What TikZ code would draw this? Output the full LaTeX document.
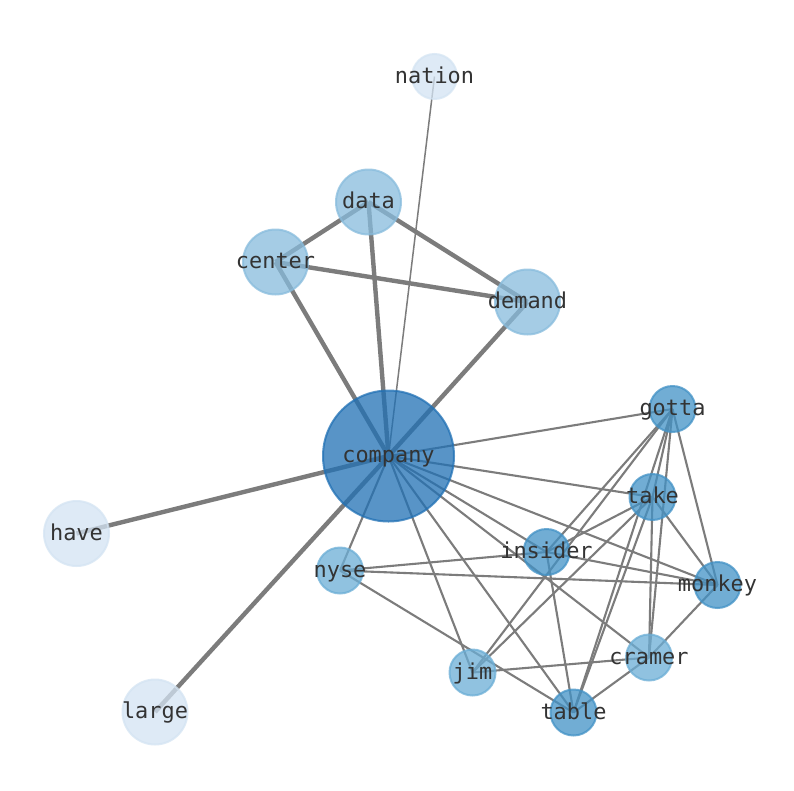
\documentclass[tikz,border=0pt]{standalone}
\usepackage{fontspec}
\setmonofont{DejaVu Sans Mono}
\usetikzlibrary{backgrounds}
\definecolor{cBig}{HTML}{2171B5}
\definecolor{cMid}{HTML}{4292C6}
\definecolor{cNy}{HTML}{6BAED6}
\definecolor{cData}{HTML}{88BCDD}
\definecolor{cLight}{HTML}{D4E4F3}
\definecolor{edgegray}{HTML}{7C7C7C}
\definecolor{txt}{HTML}{333333}
\tikzset{
  vtx/.style={circle, inner sep=0pt, outer sep=0pt, line width=2pt,
              fill opacity=.75, draw opacity=.75},
  vbig/.style={vtx, fill=cBig, draw=cBig, minimum size=131pt},
  vmid/.style={vtx, fill=cMid, draw=cMid, minimum size=46pt},
  vny/.style={vtx, fill=cNy, draw=cNy, minimum size=46pt},
  vdata/.style={vtx, fill=cData, draw=cData, minimum size=65pt},
  vlightbig/.style={vtx, fill=cLight, draw=cLight, minimum size=65pt},
  vlightsmall/.style={vtx, fill=cLight, draw=cLight, minimum size=45pt},
  heavy/.style={draw=edgegray, line width=4.4pt},
  fine/.style={draw=edgegray, line width=2.1pt},
  hair/.style={draw=edgegray, line width=1.5pt},
  lbl/.style={anchor=base, inner sep=0pt, text=txt,
              font=\fontsize{21.9}{24}\selectfont\ttfamily},
}
\begin{document}
\begin{tikzpicture}[x=1pt,y=-1pt]
\useasboundingbox (0,0) rectangle (794,790);
% nodes
\node[vlightsmall] (nation)  at (434.5,76.5) {};
\node[vdata]       (data)    at (368.5,202) {};
\node[vdata]       (center)  at (275.5,262) {};
\node[vdata]       (demand)  at (527.5,302) {};
\node[vbig]        (company) at (388.5,456) {};
\node[vlightbig]   (have)    at (76.5,533.5) {};
\node[vlightbig]   (large)   at (155,712) {};
\node[vmid]        (gotta)   at (672.5,409) {};
\node[vmid]        (take)    at (652.5,497) {};
\node[vmid]        (insider) at (546.5,552) {};
\node[vmid]        (monkey)  at (717.5,585) {};
\node[vny]         (nyse)    at (340,570.5) {};
\node[vny]         (cramer)  at (649,657.5) {};
\node[vny]         (jim)     at (472.5,672.5) {};
\node[vmid]        (table)   at (573.5,712.5) {};
% edges
\begin{scope}[on background layer]
\fill[white] (0,0) rectangle (794,790);
\draw[heavy] (company.center) -- (data.center);
\draw[heavy] (company.center) -- (center.center);
\draw[heavy] (company.center) -- (demand.center);
\draw[heavy] (company.center) -- (have.center);
\draw[heavy] (company.center) -- (large.center);
\draw[heavy] (data.center) -- (center.center);
\draw[heavy] (data.center) -- (demand.center);
\draw[heavy] (center.center) -- (demand.center);
\draw[hair]  (company.center) -- (nation.center);
\draw[fine] (company.center) -- (gotta.center);
\draw[fine] (company.center) -- (take.center);
\draw[fine] (company.center) -- (insider.center);
\draw[fine] (company.center) -- (monkey.center);
\draw[fine] (company.center) -- (cramer.center);
\draw[fine] (company.center) -- (nyse.center);
\draw[fine] (company.center) -- (jim.center);
\draw[fine] (company.center) -- (table.center);
\draw[fine] (gotta.center) -- (insider.center);
\draw[fine] (gotta.center) -- (jim.center);
\draw[fine] (gotta.center) -- (take.center);
\draw[fine] (gotta.center) -- (cramer.center);
\draw[fine] (gotta.center) -- (table.center);
\draw[fine] (gotta.center) -- (monkey.center);
\draw[fine] (take.center) -- (insider.center);
\draw[fine] (take.center) -- (jim.center);
\draw[fine] (take.center) -- (table.center);
\draw[fine] (take.center) -- (cramer.center);
\draw[fine] (take.center) -- (monkey.center);
\draw[fine] (insider.center) -- (nyse.center);
\draw[fine] (insider.center) -- (monkey.center);
\draw[fine] (insider.center) -- (table.center);
\draw[fine] (nyse.center) -- (monkey.center);
\draw[fine] (nyse.center) -- (table.center);
\draw[fine] (jim.center) -- (cramer.center);
\draw[fine] (cramer.center) -- (table.center);
\draw[fine] (cramer.center) -- (monkey.center);
\end{scope}
% labels
\node[lbl] (nation-t)  at ([yshift=-6.5pt]nation.center)  {nation};
\node[lbl] (data-t)    at ([yshift=-6.5pt]data.center)    {data};
\node[lbl] (center-t)  at ([yshift=-6.5pt]center.center)  {center};
\node[lbl] (demand-t)  at ([yshift=-6.5pt]demand.center)  {demand};
\node[lbl] (company-t) at ([yshift=-6.5pt]company.center) {company};
\node[lbl] (have-t)    at ([yshift=-6.5pt]have.center)    {have};
\node[lbl] (large-t)   at ([yshift=-6.5pt]large.center)   {large};
\node[lbl] (gotta-t)   at ([yshift=-6.5pt]gotta.center)   {gotta};
\node[lbl] (take-t)    at ([yshift=-6.5pt]take.center)    {take};
\node[lbl] (insider-t) at ([yshift=-6.5pt]insider.center) {insider};
\node[lbl] (monkey-t)  at ([yshift=-6.5pt]monkey.center)  {monkey};
\node[lbl] (nyse-t)    at ([yshift=-6.5pt]nyse.center)    {nyse};
\node[lbl] (cramer-t)  at ([yshift=-6.5pt]cramer.center)  {cramer};
\node[lbl] (jim-t)     at ([yshift=-6.5pt]jim.center)     {jim};
\node[lbl] (table-t)   at ([yshift=-6.5pt]table.center)   {table};
\end{tikzpicture}
\end{document}
